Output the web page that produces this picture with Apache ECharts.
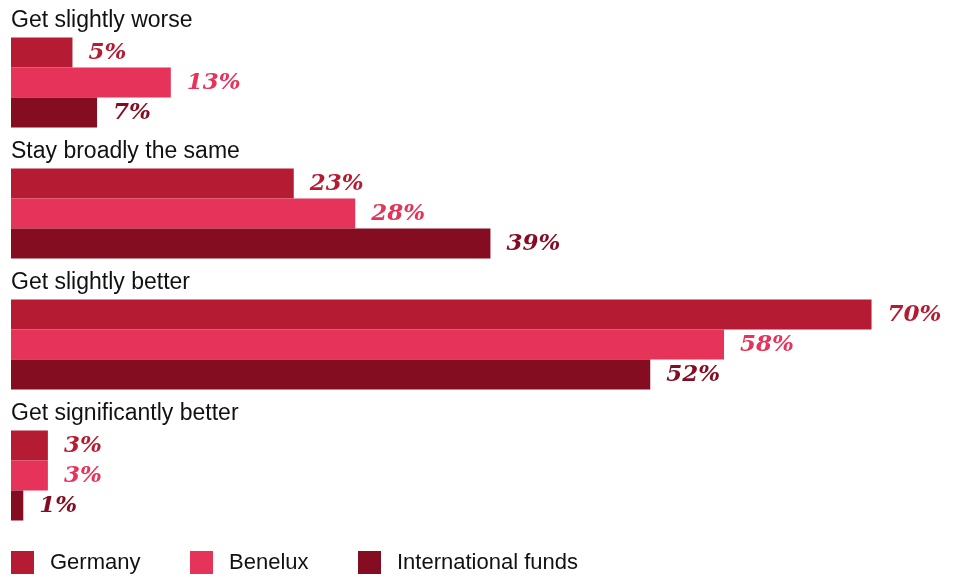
<!DOCTYPE html>
<html>
<head>
<meta charset="utf-8">
<script src="https://cdn.jsdelivr.net/npm/echarts@6/dist/echarts.min.js"></script>
<style>
  html, body { margin: 0; padding: 0; background: #fff; }
  #main { width: 953px; height: 577px; }
</style>
</head>
<body>
<div id="main"></div>
<script>
var categories = ['Get slightly worse', 'Stay broadly the same', 'Get slightly better', 'Get significantly better'];
var germany = [5, 23, 70, 3];
var benelux = [13, 28, 58, 3];
var intlFunds = [7, 39, 52, 1];

var colors = ['#b51b32', '#e5335a', '#850d22'];

var myChart = echarts.init(document.getElementById('main'));

function makeSeries(name, data, color) {
    return {
        name: name,
        type: 'bar',
        data: data,
        barWidth: 30,
        barGap: '0%',
        itemStyle: { color: color },
        label: {
            show: true,
            position: 'right',
            distance: 16,
            offset: [0, 1],
            formatter: '{c}%',
            color: color,
            fontFamily: 'DejaVu Serif',
            fontStyle: 'italic',
            fontWeight: 'bold',
            fontSize: 23
        }
    };
}

function makeLegend(name, left) {
    return {
        data: [name],
        left: left,
        top: 551,
        icon: 'rect',
        itemWidth: 23,
        itemHeight: 23,
        itemGap: 0,
        padding: 0,
        textStyle: {
            fontFamily: 'Liberation Sans',
            fontSize: 22,
            color: '#111',
            padding: [7, 0, 0, 11]
        }
    };
}

// category headings sit above each group of bars
var headingData = categories.map(function (c) { return [0, c]; });

myChart.setOption({
    animation: false,
    grid: { left: 11, right: 20, top: 17, bottom: 36 },
    legend: [
        makeLegend('Germany', 11),
        makeLegend('Benelux', 190),
        makeLegend('International funds', 358)
    ],
    xAxis: {
        type: 'value',
        min: 0,
        max: 75,
        show: false
    },
    yAxis: {
        type: 'category',
        data: categories,
        inverse: true,
        show: false
    },
    series: [
        makeSeries('Germany', germany, colors[0]),
        makeSeries('Benelux', benelux, colors[1]),
        makeSeries('International funds', intlFunds, colors[2]),
        {
            type: 'scatter',
            data: headingData,
            symbolSize: 0,
            silent: true,
            itemStyle: { opacity: 1 },
            label: {
                show: true,
                position: 'right',
                distance: 0,
                offset: [0, -62],
                formatter: function (p) { return p.value[1]; },
                fontFamily: 'Liberation Sans',
                fontSize: 23,
                color: '#111'
            }
        }
    ]
});
</script>
</body>
</html>
